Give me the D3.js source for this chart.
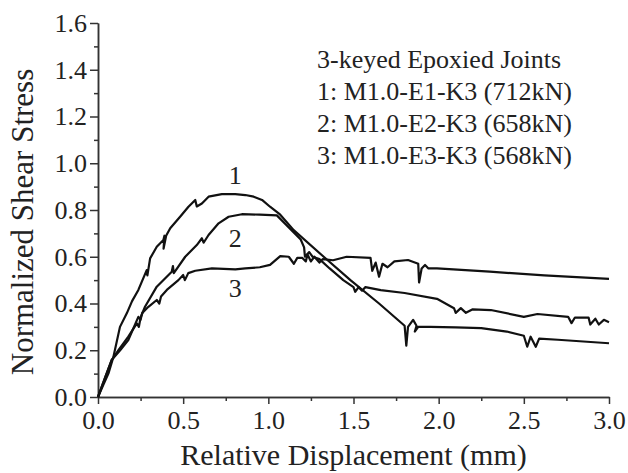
<!DOCTYPE html>
<html>
<head>
<meta charset="utf-8">
<script src="https://cdn.jsdelivr.net/npm/d3@7"></script>
<style>
  body { margin: 0; background: #fff; }
  svg text { font-family: "Liberation Serif", "Times New Roman", Times, "DejaVu Serif", serif; fill: #222; }
  .axis path, .axis line { stroke: #333; stroke-width: 1.5; }
  .curve { fill: none; stroke: #111; stroke-width: 2.2; stroke-linejoin: round; }
</style>
</head>
<body>
<div id="chart"></div>
<script>
// [relative displacement (mm), normalized shear stress]
const curve1 = [
  [0, 0], [0.03, 0.05], [0.061, 0.10], [0.09, 0.17], [0.129, 0.30], [0.169, 0.358],
  [0.2, 0.41], [0.237, 0.458], [0.286, 0.543], [0.29, 0.52], [0.306, 0.593],
  [0.345, 0.643], [0.384, 0.672], [0.39, 0.69], [0.385, 0.635], [0.40, 0.69],
  [0.424, 0.722], [0.482, 0.771], [0.531, 0.814], [0.571, 0.843], [0.58, 0.815],
  [0.61, 0.828], [0.649, 0.857], [0.727, 0.868], [0.806, 0.868], [0.865, 0.864],
  [0.914, 0.857], [0.963, 0.843], [1.01, 0.814], [1.07, 0.78], [1.149, 0.714],
  [1.325, 0.60], [1.482, 0.50], [1.65, 0.40], [1.80, 0.305], [1.81, 0.22],
  [1.82, 0.30], [1.85, 0.33], [1.87, 0.305], [1.86, 0.28], [1.88, 0.30],
  [1.95, 0.30], [2.1, 0.298], [2.25, 0.295], [2.4, 0.28], [2.5, 0.262],
  [2.52, 0.215], [2.54, 0.258], [2.57, 0.215], [2.59, 0.25], [2.7, 0.245], [3.0, 0.23]
];
const curve2 = [
  [0, 0], [0.04, 0.08], [0.08, 0.158], [0.12, 0.20], [0.178, 0.258], [0.228, 0.315],
  [0.24, 0.30], [0.25, 0.34], [0.276, 0.386], [0.345, 0.472], [0.433, 0.536],
  [0.44, 0.56], [0.445, 0.53], [0.512, 0.60], [0.58, 0.65], [0.61, 0.679],
  [0.62, 0.66], [0.649, 0.693], [0.708, 0.743], [0.767, 0.771], [0.845, 0.782],
  [0.95, 0.78], [1.05, 0.777], [1.19, 0.674], [1.21, 0.64], [1.215, 0.60],
  [1.24, 0.62], [1.26, 0.60], [1.30, 0.59], [1.36, 0.55], [1.44, 0.50], [1.50, 0.47],
  [1.51, 0.45], [1.53, 0.47], [1.55, 0.455], [1.57, 0.47], [1.66, 0.457],
  [1.8, 0.445], [1.99, 0.42], [2.09, 0.38], [2.10, 0.36], [2.13, 0.38],
  [2.16, 0.36], [2.2, 0.375], [2.306, 0.372], [2.5, 0.343], [2.58, 0.355],
  [2.76, 0.343], [2.78, 0.316], [2.80, 0.34], [2.88, 0.34], [2.89, 0.31],
  [2.92, 0.335], [2.94, 0.31], [2.97, 0.33], [3.0, 0.32]
];
const curve3 = [
  [0, 0], [0.04, 0.08], [0.08, 0.158], [0.13, 0.20], [0.178, 0.244], [0.237, 0.343],
  [0.25, 0.33], [0.26, 0.36], [0.296, 0.386], [0.345, 0.415], [0.36, 0.40],
  [0.37, 0.43], [0.404, 0.458], [0.472, 0.50], [0.50, 0.522], [0.51, 0.50],
  [0.53, 0.53], [0.571, 0.54], [0.669, 0.55], [0.806, 0.546], [0.865, 0.55],
  [0.95, 0.555], [1.01, 0.565], [1.07, 0.603], [1.12, 0.60], [1.15, 0.57],
  [1.17, 0.595], [1.2, 0.595], [1.22, 0.58], [1.23, 0.61], [1.25, 0.58],
  [1.27, 0.60], [1.30, 0.575], [1.32, 0.59], [1.38, 0.585], [1.46, 0.60],
  [1.6, 0.595], [1.61, 0.54], [1.63, 0.575], [1.65, 0.515], [1.67, 0.57],
  [1.70, 0.555], [1.74, 0.58], [1.82, 0.586], [1.88, 0.57], [1.885, 0.49],
  [1.90, 0.55], [1.92, 0.565], [1.94, 0.55], [1.99, 0.55], [2.3, 0.536],
  [2.62, 0.52], [3.0, 0.505]
];
const curves = [curve1, curve2, curve3];
const curveLabels = [
  { text: '1', x: 0.806, y: 0.95 },
  { text: '2', x: 0.806, y: 0.68 },
  { text: '3', x: 0.806, y: 0.466 }
];
const legendLines = [
  '3-keyed Epoxied Joints',
  '1: M1.0-E1-K3 (712kN)',
  '2: M1.0-E2-K3 (658kN)',
  '3: M1.0-E3-K3 (568kN)'
];
const xTicks = [0, 0.5, 1.0, 1.5, 2.0, 2.5, 3.0];
const yTicks = [0, 0.2, 0.4, 0.6, 0.8, 1.0, 1.2, 1.4, 1.6];
const xMinor = [0.25, 0.75, 1.25, 1.75, 2.25, 2.75];
const yMinor = [0.1, 0.3, 0.5, 0.7, 0.9, 1.1, 1.3, 1.5];

const width = 628;
const height = 473;
const margin = { top: 23, right: 19, bottom: 76, left: 98 };

const svg = d3
  .select('#chart')
  .append('svg')
  .attr('width', width)
  .attr('height', height);

const x = d3
  .scaleLinear()
  .domain([0, 3])
  .range([margin.left, width - margin.right]);

const y = d3
  .scaleLinear()
  .domain([0, 1.6])
  .range([height - margin.bottom, margin.top]);

// minor ticks first, majors on top
svg
  .append('g')
  .attr('class', 'axis')
  .attr('transform', `translate(0,${y(0)})`)
  .call(d3.axisBottom(x).tickValues(xMinor).tickSize(4).tickSizeOuter(0).tickFormat(''));

svg
  .append('g')
  .attr('class', 'axis')
  .attr('transform', `translate(${x(0)},0)`)
  .call(d3.axisLeft(y).tickValues(yMinor).tickSize(4).tickSizeOuter(0).tickFormat(''));

svg
  .append('g')
  .attr('class', 'axis')
  .attr('transform', `translate(0,${y(0)})`)
  .call(d3.axisBottom(x).tickValues(xTicks).tickSize(7).tickSizeOuter(0).tickPadding(7).tickFormat(d3.format('.1f')))
  .call(g => g.selectAll('text').attr('font-size', 26).attr('fill', '#222'));

svg
  .append('g')
  .attr('class', 'axis')
  .attr('transform', `translate(${x(0)},0)`)
  .call(d3.axisLeft(y).tickValues(yTicks).tickSize(8).tickSizeOuter(0).tickPadding(3).tickFormat(d3.format('.1f')))
  .call(g => g.selectAll('text').attr('font-size', 26).attr('fill', '#222'));

const line = d3
  .line()
  .x(d => x(d[0]))
  .y(d => y(d[1]));

svg
  .selectAll('.curve')
  .data(curves)
  .join('path')
  .attr('class', 'curve')
  .attr('d', line);

svg
  .selectAll('.clabel')
  .data(curveLabels)
  .join('text')
  .attr('class', 'clabel')
  .attr('x', d => x(d.x))
  .attr('y', d => y(d.y))
  .attr('dy', '0.35em')
  .attr('text-anchor', 'middle')
  .attr('font-size', 26)
  .text(d => d.text);

svg
  .selectAll('.legend')
  .data(legendLines)
  .join('text')
  .attr('class', 'legend')
  .attr('x', 317)
  .attr('y', (d, i) => 68 + i * 32)
  .attr('font-size', 26)
  .text(d => d);

// axis titles
svg
  .append('text')
  .attr('x', (x(0) + x(3)) / 2)
  .attr('y', 465)
  .attr('text-anchor', 'middle')
  .attr('font-size', 30)
  .text('Relative Displacement (mm)');

svg
  .append('text')
  .attr('transform', `translate(33,${(y(0) + y(1.6)) / 2 + 12}) rotate(-90)`)
  .attr('text-anchor', 'middle')
  .attr('font-size', 31)
  .text('Normalized Shear Stress');
</script>
</body>
</html>
